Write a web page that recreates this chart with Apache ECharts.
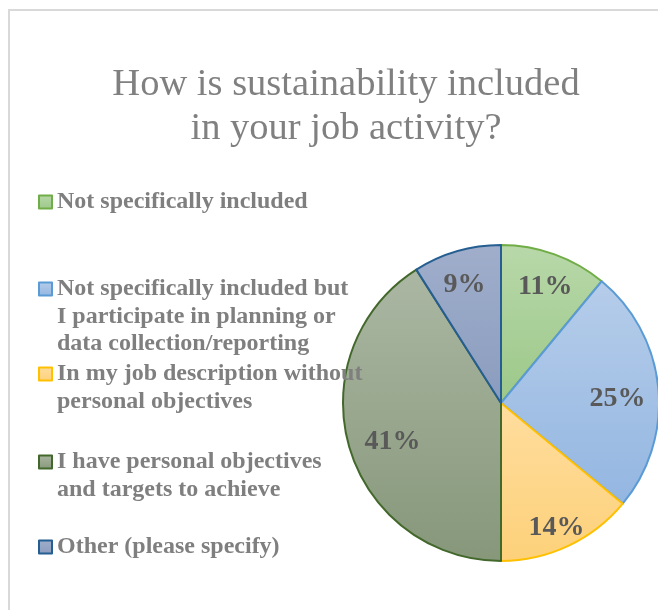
<!DOCTYPE html>
<html>
<head>
<meta charset="utf-8">
<style>
  html, body { margin: 0; padding: 0; background: #ffffff; }
  #chart { width: 658px; height: 610px; }
</style>
<script src="https://cdn.jsdelivr.net/npm/echarts@6/dist/echarts.min.js"></script>
</head>
<body>
<div id="chart"></div>
<script>
// Survey answers (share of respondents, %)
const categories = [
  'Not specifically included',
  'Not specifically included but\nI participate in planning or\ndata collection/reporting',
  'In my job description without\npersonal objectives',
  'I have personal objectives\nand targets to achieve',
  'Other (please specify)'
];
const shares = [11, 25, 14, 41, 9];

// Slice styling: outline colour and top/bottom gradient stops
const outlineColors = ['#70ad47', '#5b9bd5', '#ffc000', '#43682b', '#255e91'];
const fillTop = ['#b8d8a9', '#b6cdea', '#ffdd9e', '#abb7a3', '#a0aecb'];
const fillBottom = ['#9cc889', '#93b6e1', '#fdd17a', '#86977a', '#8a9cbe'];

const FONT = '"Liberation Serif", "Times New Roman", serif';
const CX = 501, CY = 403, R = 158;
const LINE_H = 27.5;
const legendIconCenters = [202, 289, 374, 462, 547];

const chart = echarts.init(document.getElementById('chart'), null, { renderer: 'canvas' });

function gradient(i) {
  return new echarts.graphic.LinearGradient(0, 0, 0, 1, [
    { offset: 0, color: fillTop[i] },
    { offset: 1, color: fillBottom[i] }
  ]);
}

const pieData = categories.map((name, i) => ({
  name: name,
  value: shares[i],
  itemStyle: { color: gradient(i), borderColor: outlineColors[i], borderWidth: 2 }
}));

// One legend block per answer. The legend centres its text on the marker,
// so blank lines are prepended to keep the marker level with the first line.
const legends = categories.map((name, i) => {
  const lines = name.split('\n').length;
  const total = 2 * lines - 1;
  return {
    data: [name],
    left: 38,
    top: legendIconCenters[i] - total * LINE_H / 2,
    padding: 0,
    orient: 'vertical',
    icon: 'rect',
    itemWidth: 13,
    itemHeight: 13,
    itemGap: 0,
    selectedMode: false,
    formatter: n => '\n'.repeat(lines - 1) + n,
    textStyle: {
      fontFamily: FONT,
      fontSize: 24,
      fontWeight: 'bold',
      color: '#7f7f7f',
      lineHeight: LINE_H
    }
  };
});

// Transparent rings that carry the percentage labels; an inside label sits
// midway between a ring's inner and outer radius.
function labelRing(inner, shown) {
  return {
    type: 'pie',
    center: [CX, CY],
    radius: [inner, R],
    startAngle: 90,
    clockwise: true,
    silent: true,
    legendHoverLink: false,
    data: categories.map((name, i) => ({
      name: name,
      value: shares[i],
      label: { show: shown.includes(i) }
    })),
    itemStyle: { color: 'rgba(0,0,0,0)', borderWidth: 0 },
    label: {
      position: 'inside',
      offset: [0, 7],
      formatter: p => p.value + '%',
      fontFamily: FONT,
      fontSize: 28,
      fontWeight: 'bold',
      color: '#595959'
    },
    labelLine: { show: false },
    emphasis: { disabled: true }
  };
}

chart.setOption({
  animation: false,
  backgroundColor: '#ffffff',
  graphic: [{
    type: 'rect',
    shape: { x: 9, y: 10, width: 700, height: 700 },
    style: { fill: 'none', stroke: '#d9d9d9', lineWidth: 2 },
    silent: true,
    z: -10
  }],
  title: {
    text: 'How is sustainability included\nin your job activity?',
    left: 346,
    top: 63,
    textAlign: 'center',
    padding: 0,
    textStyle: {
      fontFamily: FONT,
      fontSize: 38.5,
      fontWeight: 'normal',
      color: '#808080',
      lineHeight: 44
    }
  },
  legend: legends,
  series: [
    {
      type: 'pie',
      center: [CX, CY],
      radius: [0, R],
      startAngle: 90,
      clockwise: true,
      data: pieData,
      label: { show: false },
      labelLine: { show: false },
      emphasis: { disabled: true }
    },
    labelRing(97, [0, 2, 4]),
    labelRing(70, [1]),
    labelRing(62, [3])
  ]
});
</script>
</body>
</html>
